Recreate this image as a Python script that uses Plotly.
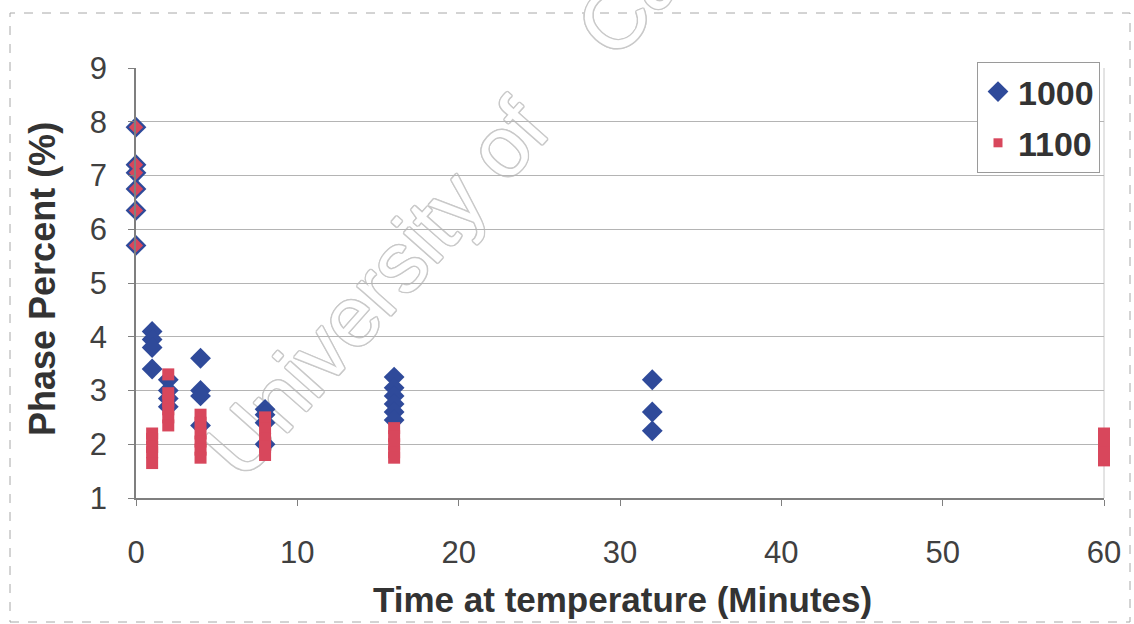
import plotly.graph_objects as go

# Phase percent measured after holding at 1000 and 1100 degrees
time_1000 = [0, 0, 0, 0, 0, 0,
             1, 1, 1, 1,
             2, 2, 2, 2,
             4, 4, 4, 4,
             8, 8, 8, 8,
             16, 16, 16, 16, 16, 16,
             32, 32, 32]
phase_1000 = [7.9, 7.2, 7.05, 6.75, 6.35, 5.7,
              4.1, 3.95, 3.8, 3.4,
              3.2, 3.0, 2.85, 2.7,
              3.6, 3.0, 2.9, 2.35,
              2.65, 2.55, 2.4, 2.0,
              3.25, 3.05, 2.9, 2.75, 2.6, 2.45,
              3.2, 2.6, 2.25]

time_1100 = [0, 0, 0, 0, 0, 0,
             1, 1, 1, 1, 1,
             2, 2, 2, 2, 2, 2,
             4, 4, 4, 4, 4, 4,
             8, 8, 8, 8, 8,
             16, 16, 16, 16, 16,
             60, 60, 60, 60]
phase_1100 = [7.9, 7.2, 7.05, 6.75, 6.35, 5.7,
              2.2, 2.1, 1.95, 1.85, 1.65,
              3.3, 2.95, 2.8, 2.65, 2.5, 2.35,
              2.55, 2.4, 2.2, 2.05, 1.9, 1.75,
              2.5, 2.3, 2.1, 1.95, 1.8,
              2.3, 2.15, 2.0, 1.85, 1.75,
              2.2, 2.0, 1.85, 1.7]

series_names = ["1000", "1100"]
x_ticks = [0, 10, 20, 30, 40, 50, 60]
y_ticks = [1, 2, 3, 4, 5, 6, 7, 8, 9]

BLUE = "#2f4a9a"
RED = "#d8475c"
TEXT = "#333333"
AXIS = "#7f7f7f"
FONT = "Liberation Sans, Arial"

# plot area in pixels (for placing paper-referenced items)
L, R, T, B = 136, 1104, 68, 498
W, H = R - L, B - T


def px(x):
    return (x - L) / W


def py(y):
    return 1 - (y - T) / H


fig = go.Figure()

# data traces
fig.add_trace(go.Scatter(
    x=time_1000, y=phase_1000, mode="markers", showlegend=False,
    marker=dict(symbol="diamond", size=16, color=BLUE, opacity=1,
                line=dict(width=0)),
    cliponaxis=False,
))
sym_1100 = ["diamond" if t == 0 else "square" for t in time_1100]
size_1100 = [11 if t == 0 else 12 for t in time_1100]
fig.add_trace(go.Scatter(
    x=time_1100, y=phase_1100, mode="markers", showlegend=False,
    marker=dict(symbol=sym_1100, size=size_1100, color=RED, opacity=1,
                line=dict(width=0)),
    cliponaxis=False,
))

# legend entries
fig.add_trace(go.Scatter(
    x=[None], y=[None], mode="markers", name=series_names[0],
    legendgroup="a", marker=dict(symbol="diamond", size=16, color=BLUE),
))
fig.add_trace(go.Scatter(
    x=[None], y=[None], mode="markers", name=series_names[1],
    legendgroup="b", marker=dict(symbol="square", size=9, color=RED),
))

WM = "#c9c9c9"
NB = "\u00a0"
shapes = [
    # outer dashed chart frame
    dict(type="rect", xref="paper", yref="paper",
         x0=px(10), x1=px(1130), y0=py(622), y1=py(13),
         line=dict(color="#a8a8a8", width=1, dash="dash"), layer="below"),
    # faint right edge of plot area
    dict(type="line", xref="paper", yref="paper",
         x0=1, x1=1, y0=0, y1=1,
         line=dict(color="#c8c8c8", width=1), layer="below"),
    # watermark
    dict(type="line", xref="paper", yref="paper",
         x0=px(212), y0=py(458), x1=px(657), y1=py(-47),
         line=dict(color="rgba(0,0,0,0)", width=0), layer="between",
         label=dict(text=f"University of {NB}{NB}{NB}Cape Town",
                    textposition="start",
                    textangle=-48.5, xanchor="left", yanchor="middle",
                    font=dict(family=FONT, size=85, color="#ffffff",
                              shadow=f"1.5px 0 0 {WM}, -1.5px 0 0 {WM}, "
                                     f"0 1.5px 0 {WM}, 0 -1.5px 0 {WM}, "
                                     f"1px 1px 0 {WM}, -1px -1px 0 {WM}, "
                                     f"1px -1px 0 {WM}, -1px 1px 0 {WM}"))),
]

annotations = [
    dict(text="<b>Phase Percent (%)</b>", xref="paper", yref="paper",
         x=px(42), y=py(279), textangle=-90, showarrow=False,
         xanchor="center", yanchor="middle",
         font=dict(family=FONT, size=36, color=TEXT)),
    dict(text="<b>Time at temperature (Minutes)</b>", xref="paper", yref="paper",
         x=px(622), y=py(599), showarrow=False,
         xanchor="center", yanchor="middle",
         font=dict(family=FONT, size=35, color=TEXT)),
]

fig.update_layout(
    width=1134, height=624,
    margin=dict(l=L, r=1134 - R, t=T, b=624 - B, autoexpand=False),
    paper_bgcolor="white", plot_bgcolor="white",
    font=dict(family=FONT, color=TEXT),
    showlegend=True,
    legend=dict(
        x=px(977), y=py(62), xanchor="left", yanchor="top",
        bgcolor="white", bordercolor="#9a9a9a", borderwidth=1,
        font=dict(size=34, color=TEXT, weight="bold"),
        traceorder="grouped", tracegroupgap=4,
        itemsizing="trace", entrywidth=90,
    ),
    shapes=shapes,
    annotations=annotations,
)

fig.update_xaxes(
    range=[0, 60], tickvals=x_ticks, ticktext=[str(v) for v in x_ticks],
    showgrid=False, zeroline=False,
    showline=True, linecolor=AXIS, linewidth=1.5,
    ticks="outside", ticklen=6, tickcolor=AXIS, tickwidth=1,
    ticklabelstandoff=20,
    tickfont=dict(size=31, color="#404040"),
)
fig.update_yaxes(
    range=[1, 9], tickvals=y_ticks, ticktext=[str(v) for v in y_ticks],
    showgrid=True, gridcolor="#b4b4b4", gridwidth=1,
    zeroline=False,
    showline=True, linecolor=AXIS, linewidth=1.5,
    ticks="outside", ticklen=6, tickcolor=AXIS, tickwidth=1,
    ticklabelstandoff=15,
    tickfont=dict(size=31, color="#404040"),
)

fig.write_html("out.html")
